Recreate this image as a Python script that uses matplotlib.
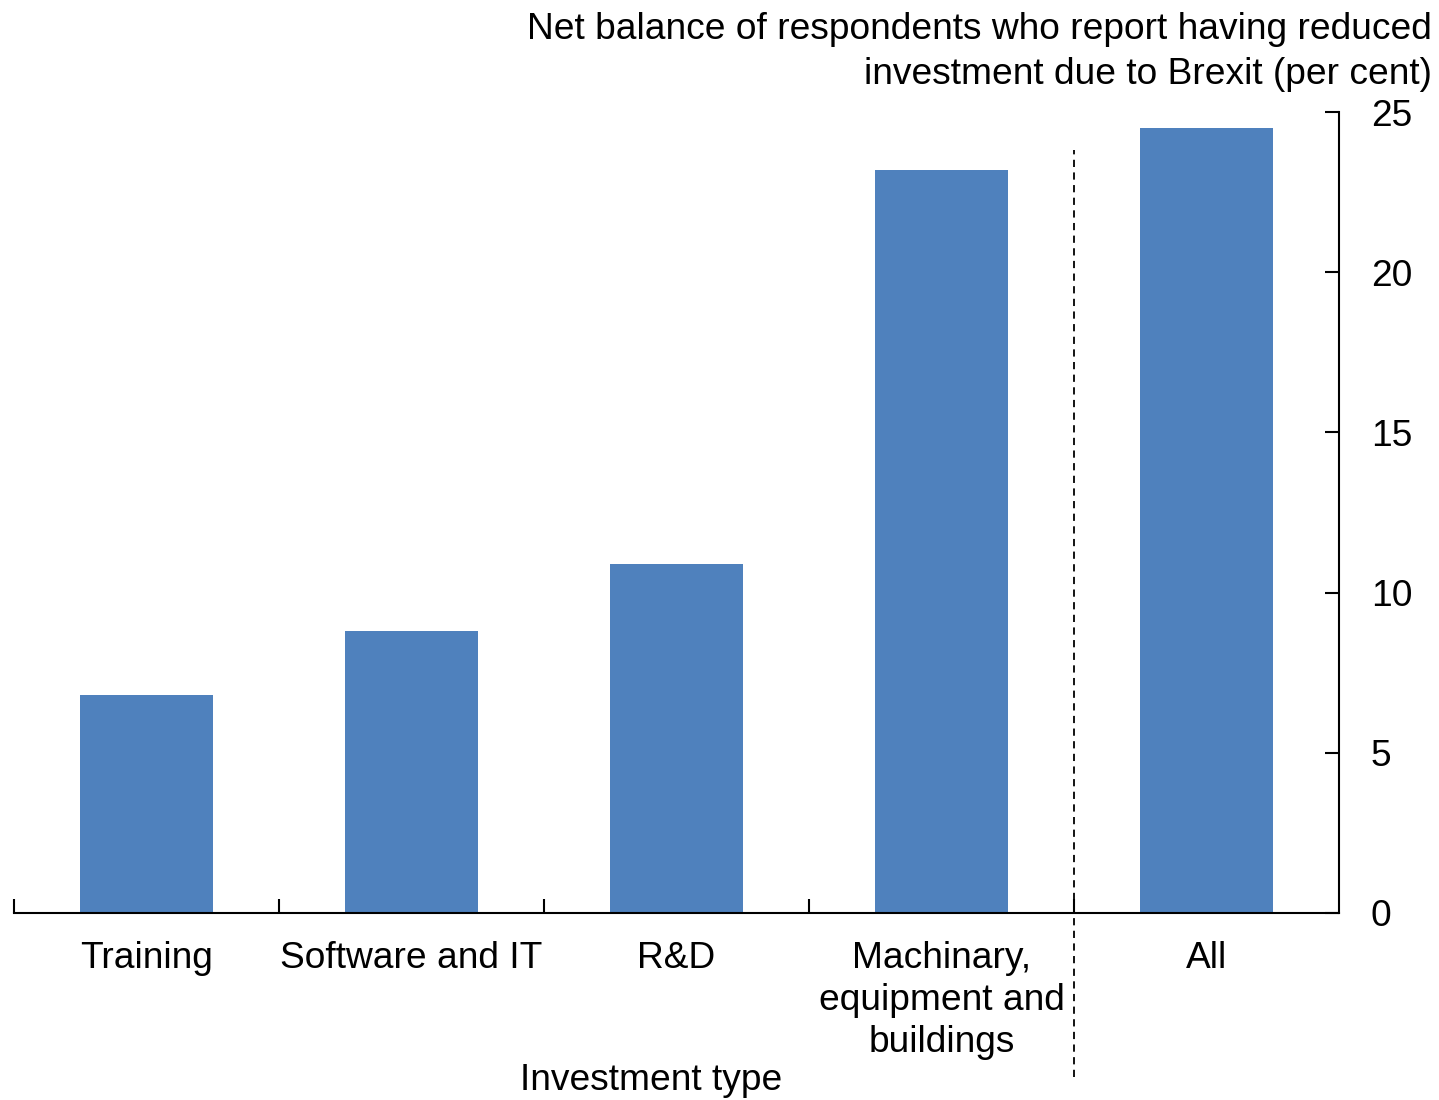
import matplotlib
matplotlib.use("Agg")
import matplotlib.pyplot as plt

categories = ["Training", "Software and IT", "R&D",
              "Machinary,\nequipment and\nbuildings", "All"]
values = [6.8, 8.8, 10.9, 23.2, 24.5]
y_ticks = [0, 5, 10, 15, 20, 25]

plt.rcParams["font.family"] = ["Liberation Sans", "DejaVu Sans"]
FS = 26.7

fig = plt.figure(figsize=(14.39, 11), dpi=100)
ax = fig.add_axes([14 / 1439, 187 / 1100, 1325 / 1439, 801 / 1100])

x = list(range(len(categories)))
ax.bar(x, values, width=0.5, color="#4F81BD")

ax.set_xlim(-0.5, len(categories) - 0.5)
ax.set_ylim(0, 25)

# y axis on the right, ticks pointing in
ax.yaxis.tick_right()
ax.set_yticks(y_ticks)
ax.tick_params(axis="y", direction="in", length=10, width=1.5, pad=23,
               labelsize=FS, right=True, left=False)

# category boundary ticks, labels centred under bars
ax.set_xticks([i - 0.5 for i in range(len(categories))])
ax.set_xticklabels([])
ax.tick_params(axis="x", which="major", direction="in", length=10, width=1.5)
ax.set_xticks(x, minor=True)
ax.set_xticklabels(categories, minor=True, fontsize=FS, linespacing=1.27)
ax.tick_params(axis="x", which="minor", length=0, pad=20)

for side in ["top", "left"]:
    ax.spines[side].set_visible(False)
for side in ["bottom", "right"]:
    ax.spines[side].set_linewidth(1.5)

# separator before "All"
ax.axvline(3.5, ymin=-0.205, ymax=0.953, color="black", lw=1.3,
           ls=(0, (4, 3)), clip_on=False)

fig.text(1432 / 1439, 1 - 12 / 1100,
         "Net balance of respondents who report having reduced\n"
         "investment due to Brexit (per cent)",
         ha="right", va="top", fontsize=FS, linespacing=1.38)
fig.text(651 / 1439, 1 - 1080 / 1100, "Investment type",
         ha="center", va="center", fontsize=FS)

fig.savefig("out.png", dpi=100)
